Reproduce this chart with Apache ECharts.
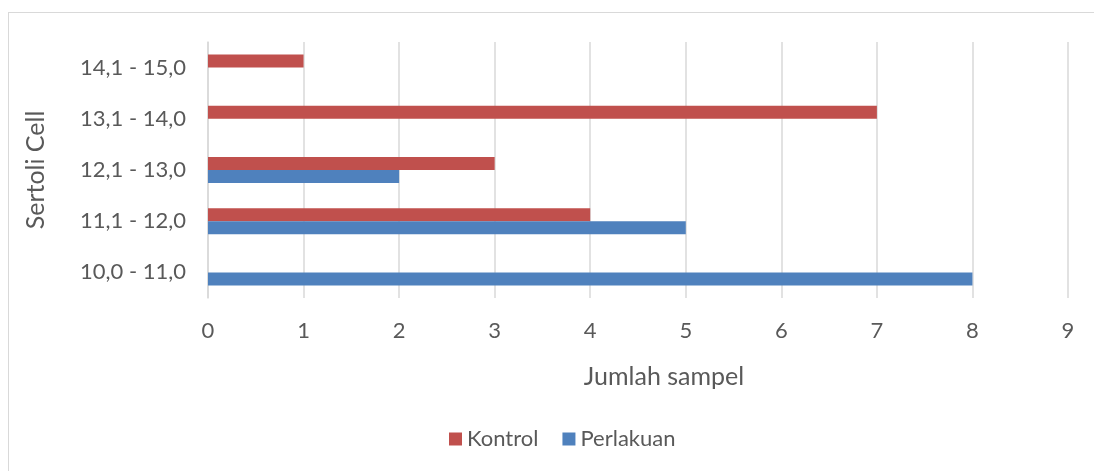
<!DOCTYPE html>
<html>
<head>
<meta charset="utf-8">
<script src="https://cdn.jsdelivr.net/npm/echarts@6/dist/echarts.min.js"></script>
<style>
  html, body { margin: 0; padding: 0; background: #fff; }
  #frame { position: absolute; left: 8px; top: 12px; width: 1200px; height: 600px; border: 1.5px solid #d9d9d9; box-sizing: border-box; }
  #main { position: absolute; left: 0; top: 0; width: 1094px; height: 471px; }
</style>
</head>
<body>
<div id="frame"></div>
<div id="main"></div>
<script>
// kategori dari bawah ke atas
var categories = ['10,0 - 11,0', '11,1 - 12,0', '12,1 - 13,0', '13,1 - 14,0', '14,1 - 15,0'];
var kontrol = [0, 4, 3, 7, 1];
var perlakuan = [8, 5, 2, 0, 0];
var xTicks = [0, 1, 2, 3, 4, 5, 6, 7, 8, 9];

var chart = echarts.init(document.getElementById('main'));
var font = 'Lato, "Open Sans", sans-serif';
var textColor = '#595959';

var option = {
  animation: false,
  textStyle: { fontFamily: font },
  grid: { left: 208, right: 26, top: 42, bottom: 173 },
  legend: {
    data: ['Kontrol', 'Perlakuan'],
    bottom: 16,
    left: 444,
    itemWidth: 13,
    itemHeight: 13,
    itemGap: 24,
    icon: 'rect',
    textStyle: { color: textColor, fontSize: 22, fontFamily: font }
  },
  xAxis: {
    type: 'value',
    min: xTicks[0],
    max: xTicks[xTicks.length - 1],
    interval: 1,
    name: 'Jumlah sampel',
    nameLocation: 'middle',
    nameGap: 66,
    nameTextStyle: { color: textColor, fontSize: 25, fontFamily: font, padding: [0, 0, 0, 52] },
    axisLine: { show: false },
    axisTick: { show: false },
    axisLabel: { color: textColor, fontSize: 22, margin: 22, fontFamily: font },
    splitLine: { lineStyle: { color: '#d9d9d9', width: 1.5 } }
  },
  yAxis: {
    type: 'category',
    data: categories,
    name: 'Sertoli Cell',
    nameLocation: 'middle',
    nameGap: 160,
    nameTextStyle: { color: textColor, fontSize: 25, fontFamily: font },
    axisLine: { show: true, lineStyle: { color: '#d9d9d9', width: 1.5 } },
    axisTick: { show: false },
    axisLabel: { color: textColor, fontSize: 22, margin: 22, fontFamily: font }
  },
  series: [
    {
      name: 'Kontrol',
      type: 'bar',
      data: kontrol,
      barWidth: 13,
      barGap: '0%',
      itemStyle: { color: '#C0504D' }
    },
    {
      name: 'Perlakuan',
      type: 'bar',
      data: perlakuan,
      barWidth: 13,
      barGap: '0%',
      itemStyle: { color: '#4F81BD' }
    }
  ]
};
chart.setOption(option);
</script>
</body>
</html>
